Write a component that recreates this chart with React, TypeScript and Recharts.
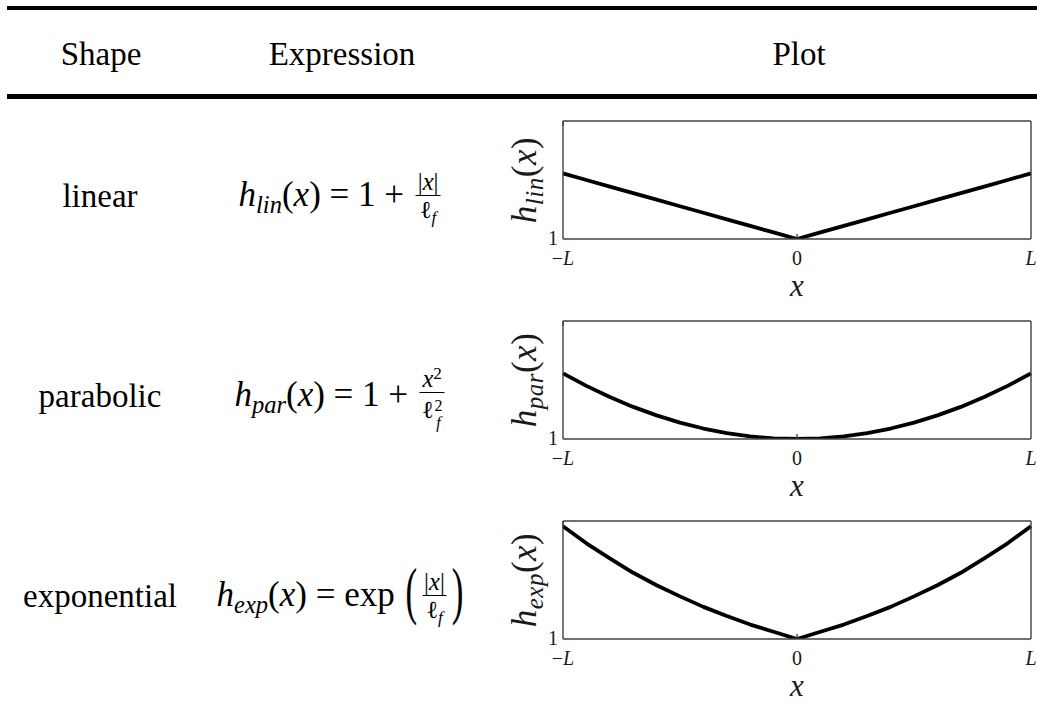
import React from "react";
import { LineChart, Line, XAxis, YAxis } from "recharts";

// table text
const headers = ["Shape", "Expression", "Plot"];
const shapes = ["linear", "parabolic", "exponential"];
const subscripts = ["lin", "par", "exp"];

// plot axes
const xTicks = [-1, 0, 1];
const xTickLabels = ["−L", "0", "L"];
const yTicks = [1];
const yTickLabels = ["1"];

// sampled curves, x in units of L (L = ℓf)
const xSamples = [
  -1, -0.9, -0.8, -0.7, -0.6, -0.5, -0.4, -0.3, -0.2, -0.1, 0,
  0.1, 0.2, 0.3, 0.4, 0.5, 0.6, 0.7, 0.8, 0.9, 1,
];
const linearValues = [
  2, 1.9, 1.8, 1.7, 1.6, 1.5, 1.4, 1.3, 1.2, 1.1, 1,
  1.1, 1.2, 1.3, 1.4, 1.5, 1.6, 1.7, 1.8, 1.9, 2,
];
const parabolicValues = [
  2, 1.81, 1.64, 1.49, 1.36, 1.25, 1.16, 1.09, 1.04, 1.01, 1,
  1.01, 1.04, 1.09, 1.16, 1.25, 1.36, 1.49, 1.64, 1.81, 2,
];
const exponentialValues = [
  2.72, 2.46, 2.23, 2.01, 1.82, 1.65, 1.49, 1.35, 1.22, 1.11, 1,
  1.11, 1.22, 1.35, 1.49, 1.65, 1.82, 2.01, 2.23, 2.46, 2.72,
];
const seriesValues = [linearValues, parabolicValues, exponentialValues];

const SERIF = "'Liberation Serif', 'DejaVu Serif', serif";
const FRAME = "#404040";
const PLOT_TOPS = [121, 321, 521];
const ROW_BASELINES = [207, 407, 607];

const I = ({ children }: { children: React.ReactNode }) => (
  <span style={{ fontStyle: "italic" }}>{children}</span>
);

const Sub = ({ children }: { children: React.ReactNode }) => (
  <span style={{ fontSize: "0.7em", fontStyle: "italic", verticalAlign: "-0.3em" }}>
    {children}
  </span>
);

const Sup = ({ children }: { children: React.ReactNode }) => (
  <span style={{ fontSize: "0.7em", verticalAlign: "0.45em" }}>{children}</span>
);

// stacked superscript over subscript (first row sets the baseline)
const SupSub = ({ sup, sub }: { sup: string; sub: string }) => (
  <span
    style={{
      display: "inline-flex",
      flexDirection: "column",
      fontSize: "0.65em",
      lineHeight: 1.05,
      verticalAlign: "0.45em",
      marginLeft: 1,
    }}
  >
    <span>{sup}</span>
    <span style={{ fontStyle: "italic" }}>{sub}</span>
  </span>
);

const Frac = ({
  num,
  den,
  denPad = 1,
}: {
  num: React.ReactNode;
  den: React.ReactNode;
  denPad?: number;
}) => (
  <span
    style={{
      display: "inline-flex",
      flexDirection: "column",
      alignItems: "stretch",
      textAlign: "center",
      verticalAlign: "middle",
      fontSize: "0.7em",
      lineHeight: 1.05,
      margin: "0 3px",
    }}
  >
    <span style={{ padding: "0 2px 1px" }}>{num}</span>
    <span style={{ borderTop: "1.5px solid #000", padding: `${denPad}px 2px 0` }}>{den}</span>
  </span>
);

const BigParen = ({ children }: { children: React.ReactNode }) => (
  <span
    style={{
      display: "inline-block",
      lineHeight: 1,
      transform: "scaleY(1.8)",
      transformOrigin: "50% 62%",
      margin: "0 2px",
    }}
  >
    {children}
  </span>
);

const expressions = [
  <>
    <I>h</I>
    <Sub>lin</Sub>(<I>x</I>) = 1 +{" "}
    <Frac
      num={<>|<I>x</I>|</>}
      den={
        <>
          ℓ<Sub>f</Sub>
        </>
      }
    />
  </>,
  <>
    <I>h</I>
    <Sub>par</Sub>(<I>x</I>) = 1 +{" "}
    <Frac
      num={
        <>
          <I>x</I>
          <Sup>2</Sup>
        </>
      }
      den={
        <>
          ℓ<SupSub sup="2" sub="f" />
        </>
      }
      denPad={4}
    />
  </>,
  <>
    <I>h</I>
    <Sub>exp</Sub>(<I>x</I>) = exp <BigParen>(</BigParen>
    <Frac
      num={<>|<I>x</I>|</>}
      den={
        <>
          ℓ<Sub>f</Sub>
        </>
      }
    />
    <BigParen>)</BigParen>
  </>,
];

// places a line of text so that its baseline sits at y
const LINE_H = 80;
const TextAt = ({
  cx,
  baseline,
  size = 33,
  children,
}: {
  cx: number;
  baseline: number;
  size?: number;
  children: React.ReactNode;
}) => (
  <div
    style={{
      position: "absolute",
      left: cx,
      top: baseline - ((LINE_H - 1.107 * size) / 2 + 0.891 * size),
      transform: "translateX(-50%)",
      whiteSpace: "nowrap",
      fontSize: size,
      lineHeight: `${LINE_H}px`,
      color: "#000",
    }}
  >
    {children}
  </div>
);

const mathText = (label: string, x: number, y: number, size: number, anchor: string) => (
  <text x={x} y={y} textAnchor={anchor} fontFamily={SERIF} fontSize={size} fill="#1a1a1a">
    {label.split("").map((ch, i) => (
      <tspan key={i} fontStyle={/[A-Za-z]/.test(ch) ? "italic" : "normal"}>
        {ch}
      </tspan>
    ))}
  </text>
);

const BottomTick = (props: any) => {
  const { x, y, payload } = props;
  const idx = xTicks.indexOf(payload.value);
  return (
    <g>
      {payload.value === 0 && (
        <line x1={x} x2={x} y1={y} y2={y - 5} stroke={FRAME} strokeWidth={1.4} />
      )}
      {mathText(xTickLabels[idx], x, y + 25.5, 20, "middle")}
    </g>
  );
};

const TopTick = (props: any) => {
  const { x, y, payload } = props;
  if (payload.value !== 0) return <g />;
  return <line x1={x} x2={x} y1={y} y2={y + 5} stroke={FRAME} strokeWidth={1.4} />;
};

const LeftTick = (props: any) => {
  const { x, y, payload } = props;
  const idx = yTicks.indexOf(payload.value);
  return mathText(yTickLabels[idx], x, y + 5.6, 20, "end");
};

const XLabel = (props: any) => {
  const { x, y, width } = props.viewBox;
  return (
    <text
      x={x + width / 2}
      y={y + 56.5}
      textAnchor="middle"
      fontFamily={SERIF}
      fontStyle="italic"
      fontSize={31}
      fill="#1a1a1a"
    >
      x
    </text>
  );
};

const makeYLabel = (sub: string) => (props: any) => {
  const { x, y, height } = props.viewBox;
  const bx = x + 41;
  const cy = y + height / 2;
  return (
    <text
      x={bx}
      y={cy}
      transform={`rotate(-90 ${bx} ${cy})`}
      textAnchor="middle"
      fontFamily={SERIF}
      fontSize={35}
      letterSpacing={0.5}
      fill="#1a1a1a"
    >
      <tspan fontStyle="italic">h</tspan>
      <tspan fontStyle="italic" fontSize={25} dy={7}>
        {sub}
      </tspan>
      <tspan dy={-7}>(</tspan>
      <tspan fontStyle="italic">x</tspan>
      <tspan>)</tspan>
    </text>
  );
};

const axisStroke = { stroke: FRAME, strokeWidth: 1.4 };

const ShapePlot = ({ row }: { row: number }) => {
  const values = seriesValues[row];
  const data = xSamples.map((x, i) => ({ x, h: values[i] }));
  return (
    <div style={{ position: "absolute", left: 495, top: PLOT_TOPS[row] - 11 }}>
      <LineChart
        width={560}
        height={195}
        data={data}
        margin={{ top: 1, right: 0, bottom: 0, left: 0 }}
      >
        <XAxis
          xAxisId="bottom"
          dataKey="x"
          type="number"
          domain={[-1, 1]}
          ticks={xTicks}
          interval={0}
          orientation="bottom"
          height={66}
          tickSize={0}
          tickMargin={0}
          tickLine={false}
          axisLine={axisStroke}
          tick={BottomTick}
          label={XLabel}
        />
        <XAxis
          xAxisId="top"
          type="number"
          domain={[-1, 1]}
          allowDataOverflow
          ticks={xTicks}
          interval={0}
          orientation="top"
          height={10}
          tickSize={0}
          tickMargin={0}
          tickLine={false}
          axisLine={axisStroke}
          tick={TopTick}
        />
        <YAxis
          yAxisId="left"
          type="number"
          domain={[1, 2.8]}
          allowDataOverflow
          ticks={yTicks}
          interval={0}
          width={68}
          tickSize={0}
          tickMargin={5}
          tickLine={false}
          axisLine={axisStroke}
          tick={LeftTick}
          label={makeYLabel(subscripts[row])}
        />
        <YAxis
          yAxisId="right"
          orientation="right"
          type="number"
          domain={[1, 2.8]}
          allowDataOverflow
          width={24}
          tick={false}
          tickLine={false}
          axisLine={axisStroke}
        />
        <Line
          xAxisId="bottom"
          yAxisId="left"
          dataKey="h"
          type="linear"
          stroke="#000"
          strokeWidth={3.8}
          strokeLinejoin="round"
          dot={false}
          activeDot={false}
          isAnimationActive={false}
        />
      </LineChart>
    </div>
  );
};

export default function App() {
  return (
    <div
      style={{
        position: "absolute",
        left: 0,
        top: 0,
        width: 1037,
        height: 711,
        overflow: "hidden",
        background: "#fff",
        fontFamily: SERIF,
      }}
    >
      <div style={{ position: "absolute", left: 7, right: 0, top: 6, height: 4, background: "#000" }} />
      <div style={{ position: "absolute", left: 7, right: 0, top: 94, height: 4.5, background: "#000" }} />

      <TextAt cx={101} baseline={65}>{headers[0]}</TextAt>
      <TextAt cx={342} baseline={65}>{headers[1]}</TextAt>
      <TextAt cx={799} baseline={65}>{headers[2]}</TextAt>

      {shapes.map((s, i) => (
        <React.Fragment key={s}>
          <TextAt cx={100} baseline={ROW_BASELINES[i]}>{s}</TextAt>
          <TextAt cx={341} baseline={ROW_BASELINES[i]} size={35}>
            {expressions[i]}
          </TextAt>
          <ShapePlot row={i} />
        </React.Fragment>
      ))}
    </div>
  );
}
